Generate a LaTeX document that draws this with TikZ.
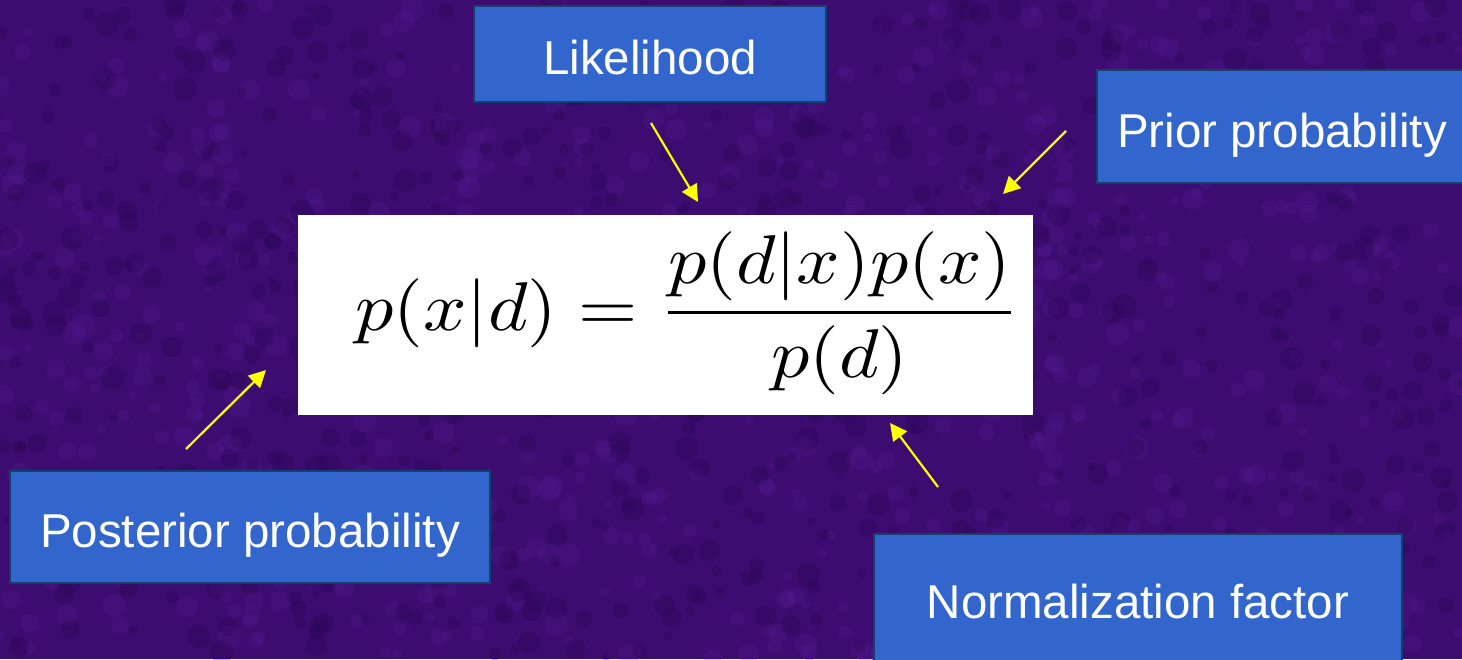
\documentclass[tikz,border=0pt]{standalone}
\usepackage{fontspec}
\usepackage{graphicx}
\setmainfont{Liberation Sans}
\usetikzlibrary{arrows.meta}
\definecolor{bgpurple}{RGB}{60,12,112}
\definecolor{bglight}{RGB}{88,30,150}
\definecolor{bgdark}{RGB}{40,6,80}
\definecolor{boxblue}{RGB}{51,102,204}
\definecolor{boxedge}{RGB}{16,64,110}
\definecolor{arrowyellow}{RGB}{255,255,0}
\tikzset{
  label box/.style={draw=boxedge, line width=1.2pt, fill=boxblue, text=white,
    inner sep=0pt, outer sep=0pt, font=\fontsize{23.75}{28}\selectfont,
    text height=20.5pt, text depth=0pt, align=center},
  pointer/.style={draw=arrowyellow, line width=1.1pt,
    -{Triangle[length=8.5pt,width=8.5pt]}},
}
\begin{document}
\begin{tikzpicture}[x=0.5pt,y=-0.5pt]
  \fill[bgpurple] (0,0) rectangle (1462,659);
  \useasboundingbox (0,0) rectangle (1462,659);
  \clip (0,0) rectangle (1462,659);
  % mottled background texture
  \pgfmathsetseed{7}
  \foreach \i in {1,...,700} {
    \pgfmathsetmacro{\rx}{rnd*1462}
    \pgfmathsetmacro{\ry}{rnd*659}
    \pgfmathsetmacro{\rr}{4+rnd*8}
    \fill[bglight, opacity=0.25] (\rx,\ry) circle[radius=\rr*0.5pt];
  }
  \foreach \i in {1,...,700} {
    \pgfmathsetmacro{\rx}{rnd*1462}
    \pgfmathsetmacro{\ry}{rnd*659}
    \pgfmathsetmacro{\rr}{4+rnd*8}
    \fill[bgdark, opacity=0.3] (\rx,\ry) circle[radius=\rr*0.5pt];
  }
  % equation panel
  \node[fill=white, inner sep=0pt, minimum width=367.5pt, minimum height=100pt] (eqbox) at (665.5,315) {};
  \node[anchor=base west, inner sep=0pt] (eq) at (355,330)
    {\scalebox{3.81}[3.45]{$\displaystyle p(x|d)=\frac{p(d|x)p(x)}{p(d)}$}};
  % label boxes
  \node[label box, minimum width=176pt, minimum height=48pt] (lik) at (650,54) {Likelihood};
  \node[label box, minimum width=185pt, minimum height=56.5pt] (prior) at (1282,126.5) {Prior probability};
  \node[label box, minimum width=240pt, minimum height=56pt] (post) at (250,527) {Posterior probability};
  \node[label box, minimum width=264pt, minimum height=63.5pt] (norm) at (1138,597.5) {Normalization factor};
  % arrow ends
  \coordinate (likA) at (651,123);
  \coordinate (likB) at (698,202);
  \coordinate (priorA) at (1066,131);
  \coordinate (priorB) at (1003,194);
  \coordinate (postA) at (186,449);
  \coordinate (postB) at (266,370);
  \coordinate (normA) at (938,487);
  \coordinate (normB) at (890,423);
  \draw[pointer] (likA) -- (likB);
  \draw[pointer] (priorA) -- (priorB);
  \draw[pointer] (postA) -- (postB);
  \draw[pointer] (normA) -- (normB);
\end{tikzpicture}
\end{document}
